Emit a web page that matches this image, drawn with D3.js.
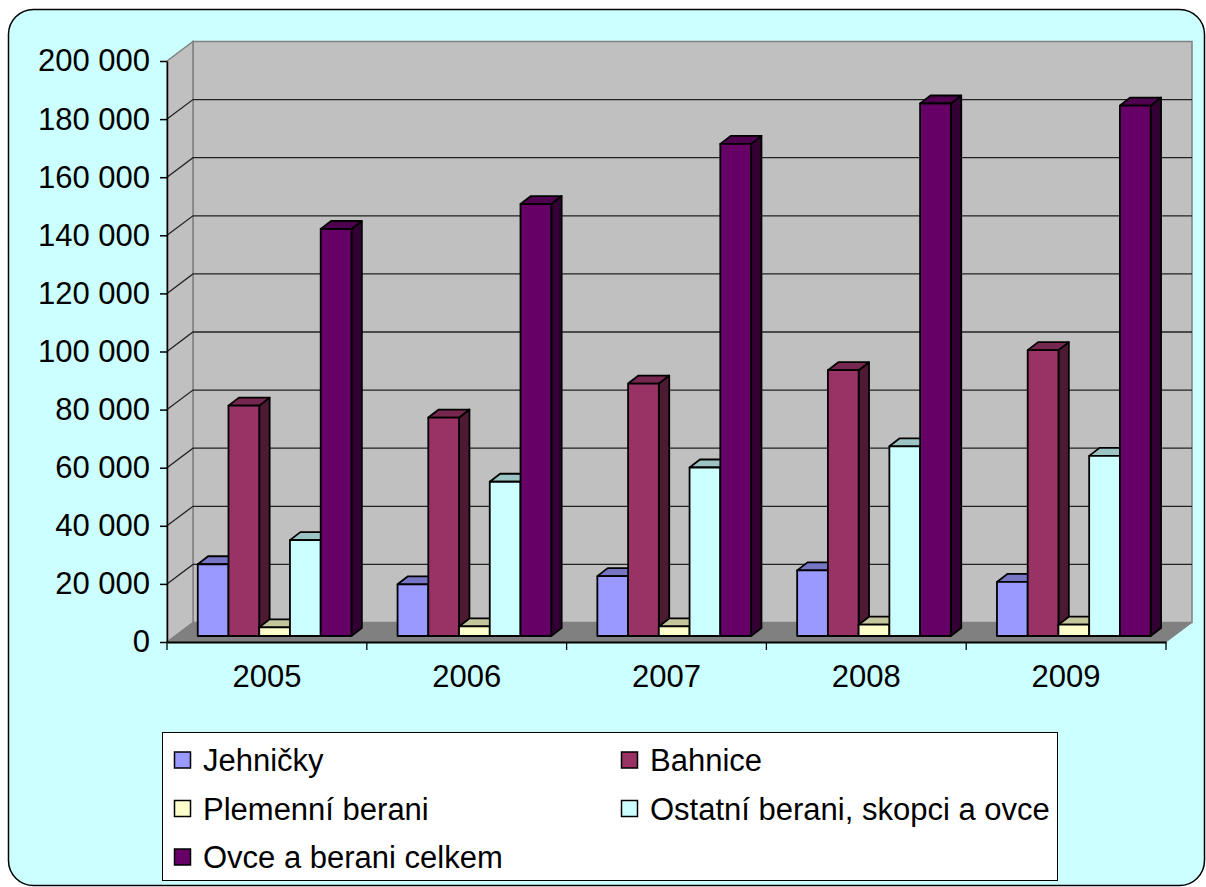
<!DOCTYPE html>
<html>
<head>
<meta charset="utf-8">
<script src="https://cdn.jsdelivr.net/npm/d3@7"></script>
<style>
  body { margin: 0; background: #fff; }
  svg { display: block; }
  svg text { font-family: "Liberation Sans", Arial, sans-serif; }
</style>
</head>
<body>
<svg width="1206" height="887"></svg>
<script>
const years = ['2005', '2006', '2007', '2008', '2009'];
const seriesNames = ['Jehničky', 'Bahnice', 'Plemenní berani', 'Ostatní berani, skopci a ovce', 'Ovce a berani celkem'];
const seriesColors = ['#9999FF', '#993366', '#FFFFCC', '#CCFFFF', '#660066'];
const jehnicky = [24700, 17800, 20600, 22600, 18600];
const bahnice = [79300, 75200, 86900, 91500, 98400];
const plemenni = [3000, 3300, 3300, 3900, 3900];
const ostatni = [33000, 53100, 58000, 65300, 62000];
const celkem = [140100, 148700, 169400, 183300, 182600];
const yTicks = [0, 20000, 40000, 60000, 80000, 100000, 120000, 140000, 160000, 180000, 200000];

const values = [jehnicky, bahnice, plemenni, ostatni, celkem];
const svg = d3.select('svg');

// depth of the 3d box and of the bars
const DX = 26, DY = -19.5;
const barOff = { x: 7.7, y: -6 };
const barDepth = { x: 10.4, y: -8 };

const x = d3.scaleBand().domain(years).range([167, 1166]);
const xs = d3.scaleBand().domain(seriesNames).range([0, x.bandwidth()]).paddingOuter(0.75);
const y = d3.scaleLinear().domain([0, 200000]).range([642, 61]);

const fmt = d3.formatLocale({ decimal: ',', thousands: ' ', grouping: [3], currency: ['', ''] }).format(',d');
const shade = (c, k) => {
  const r = d3.rgb(c);
  return d3.rgb(r.r * k, r.g * k, r.b * k).formatHex();
};
const pts = (a) => a.map(p => p.join(',')).join(' ');

// frame
svg.append('rect')
    .attr('x', 8.5).attr('y', 9.5)
    .attr('width', 1196).attr('height', 876)
    .attr('rx', 25)
    .attr('fill', '#CCFFFF')
    .attr('stroke', '#000')
    .attr('stroke-width', 1.5);

const x0 = x.range()[0], x1 = x.range()[1];
const y0 = y(0), yTop = y(200000);

// walls and floor
svg.append('polygon')
    .attr('points', pts([[x0 + DX, yTop + DY], [x1 + DX, yTop + DY], [x1 + DX, y0 + DY], [x0 + DX, y0 + DY]]))
    .attr('fill', '#C0C0C0').attr('stroke', '#808080').attr('stroke-width', 1.5);
svg.append('polygon')
    .attr('points', pts([[x0, yTop], [x0 + DX, yTop + DY], [x0 + DX, y0 + DY], [x0, y0]]))
    .attr('fill', '#C0C0C0').attr('stroke', '#808080').attr('stroke-width', 1.5);
svg.append('polygon')
    .attr('points', pts([[x0, y0], [x1, y0], [x1 + DX, y0 + DY], [x0 + DX, y0 + DY]]))
    .attr('fill', '#808080').attr('stroke', '#808080').attr('stroke-width', 1);

// gridlines
const grid = yTicks.filter(v => v > 0 && v < 200000);
svg.append('g')
  .selectAll('path')
  .data(grid)
  .enter()
  .append('path')
    .attr('d', v => `M${x0},${y(v)}L${x0 + DX},${y(v) + DY}L${x1 + DX},${y(v) + DY}`)
    .attr('fill', 'none')
    .attr('stroke', '#222')
    .attr('stroke-width', 1.3);

// bars, left to right so the next one covers the side face
const bars = [];
years.forEach((yr, i) => {
  seriesNames.forEach((s, j) => {
    bars.push({ year: yr, series: s, color: seriesColors[j], value: values[j][i] });
  });
});

const barG = svg.append('g')
  .selectAll('g')
  .data(bars)
  .enter()
  .append('g')
    .attr('stroke', '#000')
    .attr('stroke-width', 1.8)
    .attr('stroke-linejoin', 'round');

barG.each(function (d) {
  const g = d3.select(this);
  const bx = x(d.year) + xs(d.series) + barOff.x;
  const bw = xs.bandwidth();
  const yt = y(d.value) + barOff.y;
  const yb = y(0) + barOff.y;
  g.append('polygon')
      .attr('points', pts([[bx + bw, yt], [bx + bw + barDepth.x, yt + barDepth.y], [bx + bw + barDepth.x, yb + barDepth.y], [bx + bw, yb]]))
      .attr('fill', shade(d.color, 0.5));
  g.append('polygon')
      .attr('points', pts([[bx, yt], [bx + bw, yt], [bx + bw + barDepth.x, yt + barDepth.y], [bx + barDepth.x, yt + barDepth.y]]))
      .attr('fill', shade(d.color, 0.77));
  g.append('rect')
      .attr('x', bx).attr('y', yt)
      .attr('width', bw).attr('height', yb - yt)
      .attr('fill', d.color);
});

// axes
const axisY = d3.axisLeft(y).tickValues(yTicks).tickFormat(fmt).tickSize(7).tickPadding(10).tickSizeOuter(0);
svg.append('g')
    .attr('transform', `translate(${x0},0)`)
  .call(axisY)
    .attr('font-family', null)
    .attr('font-size', 31)
  .call(g => g.selectAll('text').attr('fill', '#000'))
  .call(g => g.selectAll('line, path').attr('stroke', '#000').attr('stroke-width', 1.5));

const axisX = d3.axisBottom(x).tickSize(0).tickPadding(23).tickSizeOuter(0);
svg.append('g')
    .attr('transform', `translate(0,${y0})`)
  .call(axisX)
    .attr('font-family', null)
    .attr('font-size', 31)
  .call(g => g.selectAll('text').attr('fill', '#000'))
  .call(g => g.select('.domain').attr('stroke', '#000').attr('stroke-width', 2))
  .selectAll('.bound')
  .data(years.map(yr => x(yr)).concat([x1]))
  .enter()
  .append('line')
    .attr('x1', d => d).attr('x2', d => d)
    .attr('y1', 0).attr('y2', 8)
    .attr('stroke', '#000')
    .attr('stroke-width', 1.3);

// legend
const legend = svg.append('g');
legend.append('rect')
    .attr('x', 162.5).attr('y', 732.5)
    .attr('width', 895).attr('height', 148)
    .attr('fill', '#fff')
    .attr('stroke', '#000')
    .attr('stroke-width', 1);

const legendItems = legend.selectAll('g.item')
  .data(seriesNames)
  .enter()
  .append('g')
    .attr('class', 'item')
    .attr('transform', (d, i) => `translate(${i % 2 === 0 ? 174 : 621},${760 + Math.floor(i / 2) * 48.5})`);

legendItems.append('rect')
    .attr('x', 0.5).attr('y', -8)
    .attr('width', 16).attr('height', 16)
    .attr('fill', (d, i) => seriesColors[i])
    .attr('stroke', '#000')
    .attr('stroke-width', 1.5);

legendItems.append('text')
    .attr('x', 29)
    .attr('dy', '0.36em')
    .attr('font-size', 31)
    .text(d => d);
</script>
</body>
</html>
